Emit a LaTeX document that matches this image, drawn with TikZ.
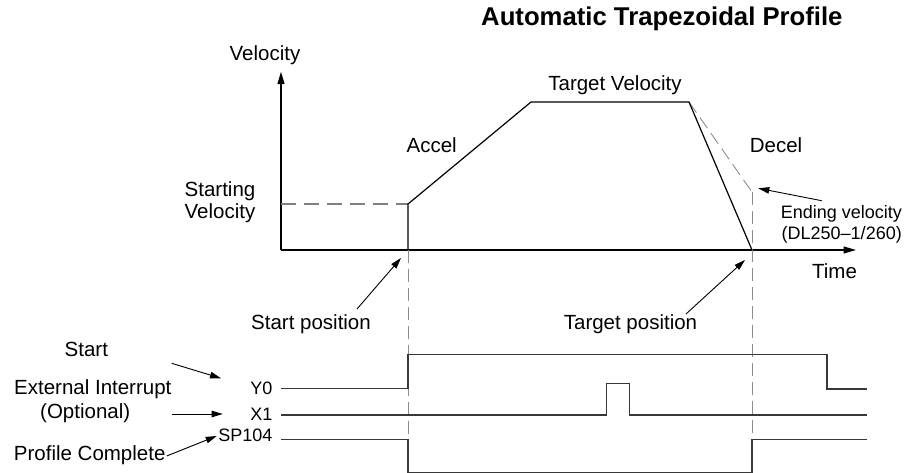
\documentclass[tikz,border=0pt]{standalone}
\usepackage{fontspec}
\setmainfont{Liberation Sans}
\usetikzlibrary{arrows.meta}

\begin{document}
\begin{tikzpicture}[x=1pt,y=-1pt,
  lbl/.style={inner sep=0pt, anchor=base, font=\fontsize{20.5}{22.5}\selectfont},
  small/.style={inner sep=0pt, anchor=base, font=\fontsize{18}{21.7}\selectfont},
  axis/.style={line width=1.3pt, -{Triangle[length=12.5pt,width=7pt]}},
  prof/.style={line width=1.2pt, line join=miter},
  guide/.style={black!45, line width=0.9pt, dash pattern=on 13pt off 6pt},
  levelguide/.style={black!50, line width=2.6pt, dash pattern=on 15pt off 8pt},
  sig/.style={black!78, line width=1.5pt, line join=miter},
  ptr/.style={line width=0.9pt, -{Triangle[length=11pt,width=6.5pt]}},
]
\useasboundingbox (0,0) rectangle (908,473);

% title
\node[inner sep=0pt, anchor=base west, font=\fontsize{25.7}{28}\selectfont\bfseries]
  (title) at (481,25.6) {Automatic Trapezoidal Profile};

% axes
\coordinate (O) at (281,250);
\coordinate (vtop) at (281,71.7);
\coordinate (tend) at (856,250);
\draw[axis] (O) -- (vtop);
\draw[axis] (O) -- (tend);

% key points of the profile
\coordinate (s0) at (408,250);
\coordinate (s1) at (408,204);
\coordinate (p1) at (531,102);
\coordinate (p2) at (689,102);
\coordinate (e0) at (752,250);
\coordinate (e1) at (752,192);
\coordinate (vs) at (281,204);

% guide lines
\draw[levelguide] (vs) -- (s1);
\draw[guide] (p2) -- (e1);
\draw[guide] (s0) -- (408,472);
\draw[guide] (e1) -- (752,472);

% trapezoidal velocity profile
\draw[prof] (s0) -- (s1) -- (p1) -- (p2) -- (e0);

% labels of the velocity plot
\node[lbl] (vel) at (265,60.7) {Velocity};
\node[lbl] (startvel1) at (220,196.7) {Starting};
\node[lbl] (startvel2) at (220,219) {Velocity};
\node[lbl] (accel) at (431.7,152.3) {Accel};
\node[lbl] (targetvel) at (615,91) {Target Velocity};
\node[lbl] (decel) at (776,152.7) {Decel};
\node[lbl] (time) at (834.5,278.3) {Time};
\node[small, anchor=base west] (endvel1) at (780.7,218.3) {Ending velocity};
\node[small, anchor=base west] (endvel2) at (781.5,240) {(DL250–1/260)};
\node[lbl] (startpos) at (311,329) {Start position};
\node[lbl] (targetpos) at (630.5,329) {Target position};

% pointers
\coordinate (startpos-t) at (357,309);
\coordinate (startpos-h) at (401,258);
\coordinate (targetpos-t) at (686,314);
\coordinate (targetpos-h) at (745,260);
\coordinate (endvel-t) at (821.7,200.7);
\coordinate (endvel-h) at (758.3,188.3);
\draw[ptr] (startpos-t) -- (startpos-h);
\draw[ptr] (targetpos-t) -- (targetpos-h);
\draw[ptr] (endvel-t) -- (endvel-h);

% timing signals
\draw[sig] (281,388.3) -- (408,388.3) -- (408,354.3) -- (827,354.3) -- (827,389) -- (866.7,389);
\draw[sig] (281,415) -- (606.7,415) -- (606.7,383.3) -- (629.3,383.3) -- (629.3,415) -- (866.7,415);
\draw[sig] (281,439.3) -- (408,439.3) -- (408,472.3) -- (752,472.3) -- (752,439.3) -- (866.7,439.3);

\node[small, anchor=base east] (y0) at (272.7,394.3) {Y0};
\node[small, anchor=base east] (x1) at (272.7,420.7) {X1};
\node[small, anchor=base east] (sp104) at (272.7,441.7) {SP104};

\node[lbl] (start) at (86.3,356) {Start};
\node[lbl] (extint) at (92.8,394) {External Interrupt};
\node[lbl] (extopt) at (85.2,418.3) {(Optional)};
\node[lbl] (profc) at (89.7,460) {Profile Complete};

\coordinate (start-t) at (171.7,363.3);
\coordinate (start-h) at (221,378.3);
\coordinate (ext-t) at (171.7,414);
\coordinate (ext-h) at (222.7,414);
\coordinate (profc-t) at (166.7,456);
\coordinate (profc-h) at (216.7,436);
\draw[ptr] (start-t) -- (start-h);
\draw[ptr] (ext-t) -- (ext-h);
\draw[ptr] (profc-t) -- (profc-h);
\end{tikzpicture}
\end{document}
